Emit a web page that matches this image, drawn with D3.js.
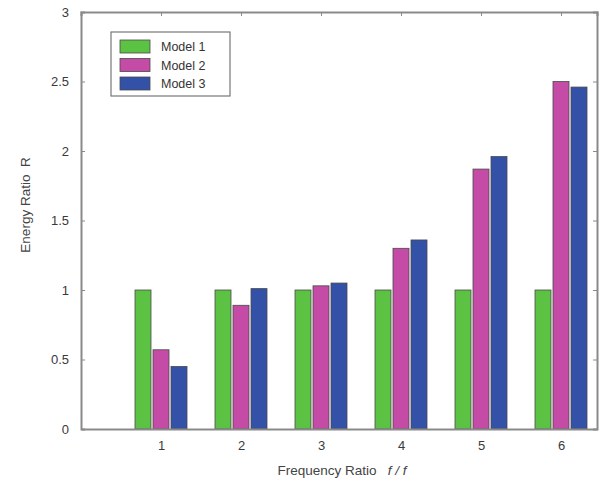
<!DOCTYPE html>
<html lang="en">
<head>
<meta charset="UTF-8"/>
<title>Energy Ratio bar chart</title>
<script src="https://d3js.org/d3.v7.min.js"></script>
<style>
  body { margin: 0; background: #fff; }
  text { font-family: "Liberation Sans", Arial, sans-serif; }
</style>
</head>
<body>
<script>
    // chart size
    var w = 601;
    var h = 486;
    var margin = {top: 12, right: 4, bottom: 57, left: 81};

    // data
    var categories = [1, 2, 3, 4, 5, 6];
    var seriesNames = ["Model 1", "Model 2", "Model 3"];
    var model1 = [1, 1, 1, 1, 1, 1];
    var model2 = [0.57, 0.89, 1.03, 1.30, 1.87, 2.50];
    var model3 = [0.45, 1.01, 1.05, 1.36, 1.96, 2.46];
    var yTicks = [0, 0.5, 1, 1.5, 2, 2.5, 3];
    var colors = ["#5cc244", "#c44ba6", "#3451a8"];

    var series = [model1, model2, model3];

    var svg = d3.select("body")
                .append("svg")
                .attr("width", w)
                .attr("height", h);

    var xScale = d3.scaleLinear()
                   .domain([0, 6.45])
                   .range([margin.left, w - margin.right]);

    var yScale = d3.scaleLinear()
                   .domain([0, 3])
                   .range([h - margin.bottom, margin.top]);

    var barW = 0.2;     // width of one bar in x units
    var step = 0.225;   // distance between bars in a group

    // bars
    series.forEach(function(vals, s) {
        svg.append("g")
           .selectAll("rect")
           .data(vals)
           .enter()
           .append("rect")
           .attr("x", function(d, i) {
               return xScale(categories[i] + (s - 1) * step - barW / 2);
           })
           .attr("y", function(d) { return yScale(d); })
           .attr("width", xScale(barW) - xScale(0))
           .attr("height", function(d) { return yScale(0) - yScale(d); })
           .attr("fill", colors[s])
           .attr("stroke", "#4a4a4a")
           .attr("stroke-width", 0.8);
    });

    var axisColor = "#8a8a8a";

    // bottom axis
    var xAxis = d3.axisBottom(xScale)
                  .tickValues(categories)
                  .tickSize(0)
                  .tickPadding(12)
                  .tickFormat(d3.format("d"));
    var gx = svg.append("g")
                .attr("transform", "translate(0," + (h - margin.bottom) + ")")
                .call(xAxis);

    // left axis
    var yAxis = d3.axisLeft(yScale)
                  .tickValues(yTicks)
                  .tickSize(-4)
                  .tickPadding(12)
                  .tickFormat(d3.format("~g"));
    var gy = svg.append("g")
                .attr("transform", "translate(" + margin.left + ",0)")
                .call(yAxis);

    // top axis (ticks only)
    var gt = svg.append("g")
                .attr("transform", "translate(0," + margin.top + ")")
                .call(d3.axisTop(xScale).tickValues(categories).tickSize(-4).tickFormat(""));

    // right axis (ticks only)
    var gr = svg.append("g")
                .attr("transform", "translate(" + (w - margin.right) + ",0)")
                .call(d3.axisRight(yScale).tickValues(yTicks).tickSize(-4).tickFormat(""));

    [gx, gy, gt, gr].forEach(function(g) {
        g.select(".domain").attr("stroke", axisColor).attr("stroke-width", 2);
        g.selectAll(".tick line").attr("stroke", axisColor);
        g.selectAll(".tick text")
         .attr("fill", "#3a3a3a")
         .style("font-size", "13px");
    });

    // axis labels
    var xl = svg.append("text")
       .attr("x", 342)
       .attr("y", 475)
       .attr("text-anchor", "middle")
       .attr("fill", "#444")
       .style("font-size", "13.5px")
       .attr("xml:space", "preserve");
    xl.append("tspan").text("Frequency Ratio   ");
    xl.append("tspan").style("font-style", "italic").text("f / f");

    svg.append("text")
       .attr("transform", "rotate(-90)")
       .attr("x", -205)
       .attr("y", 30)
       .attr("text-anchor", "middle")
       .attr("fill", "#444")
       .style("font-size", "13.5px")
       .attr("xml:space", "preserve")
       .text("Energy Ratio  R");

    // legend
    var legend = svg.append("g").attr("transform", "translate(111,32)");
    legend.append("rect")
          .attr("width", 119)
          .attr("height", 64)
          .attr("fill", "#fff")
          .attr("stroke", "#777")
          .attr("stroke-width", 1.2);

    seriesNames.forEach(function(name, i) {
        var row = legend.append("g").attr("transform", "translate(9," + (8 + i * 18.5) + ")");
        row.append("rect")
           .attr("width", 30)
           .attr("height", 13)
           .attr("fill", colors[i])
           .attr("stroke", "#4a4a4a")
           .attr("stroke-width", 0.8);
        row.append("text")
           .attr("x", 41)
           .attr("y", 11)
           .attr("fill", "#333")
           .style("font-size", "12.5px")
           .text(name);
    });
</script>
</body>
</html>
